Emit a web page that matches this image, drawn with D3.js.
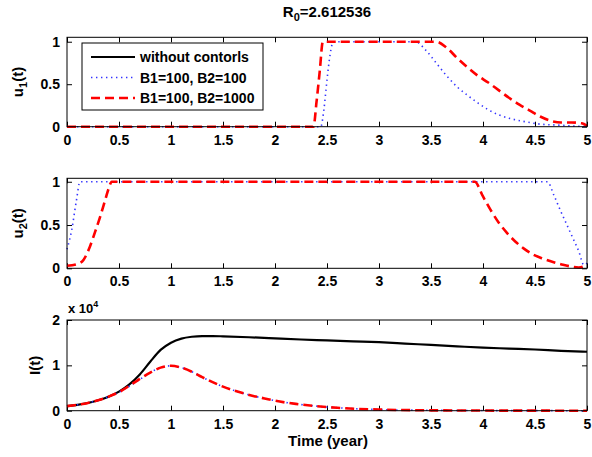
<!DOCTYPE html>
<html><head><meta charset="utf-8">
<script src="https://cdn.jsdelivr.net/npm/d3@7"></script>
<style>body{margin:0;background:#fff}svg{display:block;font-family:"Liberation Sans",Arial,sans-serif;font-weight:bold}</style>
</head><body><svg id="c" width="592" height="457"></svg>
<script>
// ---- data ----
const seriesNames = ["without contorls", "B1=100, B2=100", "B1=100, B2=1000"];
const xTicks = [0, 0.5, 1, 1.5, 2, 2.5, 3, 3.5, 4, 4.5, 5];
const xTickLabels = ["0", "0.5", "1", "1.5", "2", "2.5", "3", "3.5", "4", "4.5", "5"];
const uTicks = [0, 0.5, 1];
const uTickLabels = ["0", "0.5", "1"];
const iTicks = [0, 1, 2];
const iTickLabels = ["0", "1", "2"];
// u1(t)
const u1Blue = [[0,0],[2.44,0],[2.47,0.2],[2.5,0.55],[2.53,0.85],[2.56,1],[3.35,1],[3.45,0.9],[3.55,0.75],[3.65,0.6],[3.75,0.47],[3.85,0.37],[3.95,0.28],[4.05,0.2],[4.15,0.14],[4.25,0.1],[4.4,0.06],[4.55,0.03],[4.7,0.02],[4.85,0.01],[5,0]];
const u1Red = [[0,0],[2.37,0],[2.4,0.3],[2.43,0.65],[2.46,1],[3.55,1],[3.65,0.93],[3.75,0.81],[3.85,0.7],[3.95,0.6],[4.05,0.52],[4.15,0.43],[4.25,0.34],[4.35,0.26],[4.45,0.19],[4.55,0.12],[4.65,0.07],[4.75,0.05],[4.85,0.05],[4.95,0.04],[5,0.01]];
// u2(t)
const u2Blue = [[0,0.22],[0.045,0.44],[0.09,0.78],[0.125,1],[4.62,1],[4.68,0.85],[4.74,0.68],[4.8,0.52],[4.86,0.36],[4.92,0.2],[4.97,0.04],[5,0.06]];
const u2Red = [[0,0.03],[0.1,0.05],[0.16,0.1],[0.22,0.25],[0.27,0.42],[0.32,0.6],[0.37,0.8],[0.4,0.92],[0.43,1],[3.92,1],[4.0,0.83],[4.07,0.68],[4.15,0.53],[4.23,0.41],[4.31,0.31],[4.39,0.23],[4.48,0.16],[4.58,0.11],[4.68,0.07],[4.77,0.04],[4.85,0.02],[4.92,0.01],[5,0.04]];
// I(t) in units of 1e4
const iBlack = [[0,0.1],[0.1,0.13],[0.2,0.17],[0.3,0.23],[0.4,0.31],[0.5,0.42],[0.6,0.58],[0.7,0.8],[0.8,1.08],[0.9,1.34],[1.0,1.5],[1.1,1.59],[1.2,1.63],[1.3,1.645],[1.4,1.645],[1.5,1.64],[1.75,1.62],[2.0,1.595],[2.25,1.57],[2.5,1.55],[2.75,1.53],[3.0,1.51],[3.25,1.48],[3.5,1.45],[3.75,1.42],[4.0,1.39],[4.25,1.37],[4.5,1.35],[4.75,1.32],[5.0,1.3]];
const iBlue = [[0,0.1],[0.1,0.13],[0.2,0.17],[0.3,0.23],[0.4,0.31],[0.5,0.41],[0.6,0.54],[0.7,0.69],[0.8,0.84],[0.9,0.95],[1.0,0.99],[1.1,0.95],[1.2,0.86],[1.3,0.74],[1.4,0.63],[1.5,0.53],[1.6,0.45],[1.7,0.38],[1.8,0.32],[1.9,0.27],[2.0,0.22],[2.2,0.15],[2.4,0.1],[2.6,0.065],[2.8,0.04],[3.0,0.025],[3.5,0.008],[4.0,0.003],[4.5,0.001],[5,0]];
const iRed = [[0,0.1],[0.1,0.13],[0.2,0.17],[0.3,0.23],[0.4,0.31],[0.5,0.41],[0.6,0.55],[0.7,0.7],[0.8,0.84],[0.9,0.95],[1.0,0.99],[1.1,0.95],[1.2,0.86],[1.3,0.74],[1.4,0.63],[1.5,0.53],[1.6,0.45],[1.7,0.38],[1.8,0.32],[1.9,0.27],[2.0,0.22],[2.2,0.15],[2.4,0.1],[2.6,0.065],[2.8,0.04],[3.0,0.025],[3.5,0.008],[4.0,0.003],[4.5,0.001],[5,0]];

// ---- drawing ----
const svg = d3.select("#c");
const X0 = 67, X1 = 587;
const x = d3.scaleLinear().domain([0,5]).range([X0,X1]);
const styles = {
  black: {stroke:"#000", width:2.2, dash:null},
  blue: {stroke:"#3333ff", width:1.6, dash:"1.4,3.6"},
  red: {stroke:"#ff0000", width:2.6, dash:"9,5"}
};
const panels = [
  {top:37.3, bottom:126.7, ymax:1.052, ticks:uTicks, labels:uTickLabels, lines:[["blue",u1Blue],["red",u1Red]], ylab:["u","1","(t)"], ylx:23},
  {top:178.3, bottom:268.3, ymax:1.04, ticks:uTicks, labels:uTickLabels, lines:[["blue",u2Blue],["red",u2Red]], ylab:["u","2","(t)"], ylx:23},
  {top:320, bottom:410.7, ymax:2, ticks:iTicks, labels:iTickLabels, lines:[["black",iBlack],["blue",iBlue],["red",iRed]], ylab:["I(t)"], ylx:40}
];
panels.forEach((p,i)=>{
  const y = d3.scaleLinear().domain([0,p.ymax]).range([p.bottom,p.top]);
  const g = svg.append("g");
  g.append("defs").append("clipPath").attr("id","clip"+i).append("rect")
    .attr("x",X0-2).attr("y",p.top-2).attr("width",X1-X0+4).attr("height",p.bottom-p.top+4);
  // axes
  const ax = d3.axisBottom(x).tickValues(xTicks).tickFormat((d,k)=>xTickLabels[k]).tickSizeInner(-5).tickSizeOuter(0).tickPadding(8);
  const axG = g.append("g").attr("transform",`translate(0,${p.bottom})`).call(ax);
  const axT = g.append("g").attr("transform",`translate(0,${p.top})`).call(d3.axisTop(x).tickValues(xTicks).tickFormat("").tickSizeInner(-5).tickSizeOuter(0));
  const ay = d3.axisLeft(y).tickValues(p.ticks).tickFormat((d,k)=>p.labels[k]).tickSizeInner(-5).tickSizeOuter(0).tickPadding(7);
  const ayG = g.append("g").attr("transform",`translate(${X0},0)`).call(ay);
  const ayR = g.append("g").attr("transform",`translate(${X1},0)`).call(d3.axisRight(y).tickValues(p.ticks).tickFormat("").tickSizeInner(-5).tickSizeOuter(0));
  g.selectAll(".domain").remove();
  g.selectAll(".tick line").attr("stroke","#000").attr("stroke-width",1);
  g.selectAll(".tick text").attr("font-size",14).attr("font-weight","bold").attr("fill","#000").attr("font-family","Liberation Sans, Arial, sans-serif");
  // lines
  const line = d3.line().x(d=>x(d[0])).y(d=>y(d[1])).curve(d3.curveMonotoneX);
  p.lines.forEach(([k,data])=>{
    const s = styles[k];
    g.append("path").attr("d",line(data)).attr("fill","none").attr("stroke",s.stroke)
      .attr("stroke-width",s.width).attr("stroke-dasharray",s.dash).attr("clip-path",`url(#clip${i})`)
      .attr("stroke-linejoin","round");
  });
  // box
  g.append("rect").attr("x",X0).attr("y",p.top).attr("width",X1-X0).attr("height",p.bottom-p.top)
    .attr("fill","none").attr("stroke","#000").attr("stroke-width",1);
  // y label
  const yl = g.append("text").attr("transform",`translate(${p.ylx},${(p.top+p.bottom)/2}) rotate(-90)`)
    .attr("text-anchor","middle").attr("font-size",15).attr("fill","#000");
  if (p.ylab.length===3){
    yl.append("tspan").text(p.ylab[0]);
    yl.append("tspan").text(p.ylab[1]).attr("font-size",11).attr("dy",4);
    yl.append("tspan").text(p.ylab[2]).attr("dy",-4);
  } else yl.text(p.ylab[0]);
});
// exponent label
const ex = svg.append("text").attr("x",68).attr("y",313).attr("font-size",13).attr("fill","#000");
ex.append("tspan").text("x 10");
ex.append("tspan").text("4").attr("font-size",9).attr("dy",-6);
// title
const tt = svg.append("text").attr("x",327).attr("y",17).attr("text-anchor","middle").attr("font-size",15).attr("fill","#000");
tt.append("tspan").text("R");
tt.append("tspan").text("0").attr("font-size",11).attr("dy",4);
tt.append("tspan").text("=2.612536").attr("dy",-4);
// x label
svg.append("text").attr("x",328).attr("y",446).attr("text-anchor","middle").attr("font-size",15).attr("fill","#000").text("Time (year)");
// legend
const lg = svg.append("g");
lg.append("rect").attr("x",82).attr("y",43).attr("width",181).attr("height",67).attr("fill","#fff").attr("stroke","#000").attr("stroke-width",1);
const keys = ["black","blue","red"];
const rowY = [57, 77.5, 98];
seriesNames.forEach((n,k)=>{
  const s = styles[keys[k]];
  lg.append("line").attr("x1",91).attr("x2",135).attr("y1",rowY[k]).attr("y2",rowY[k])
    .attr("stroke",s.stroke).attr("stroke-width",s.width).attr("stroke-dasharray",s.dash);
  lg.append("text").attr("x",140).attr("y",rowY[k]+5).attr("font-size",14).attr("fill","#000").text(n);
});
</script></body></html>
